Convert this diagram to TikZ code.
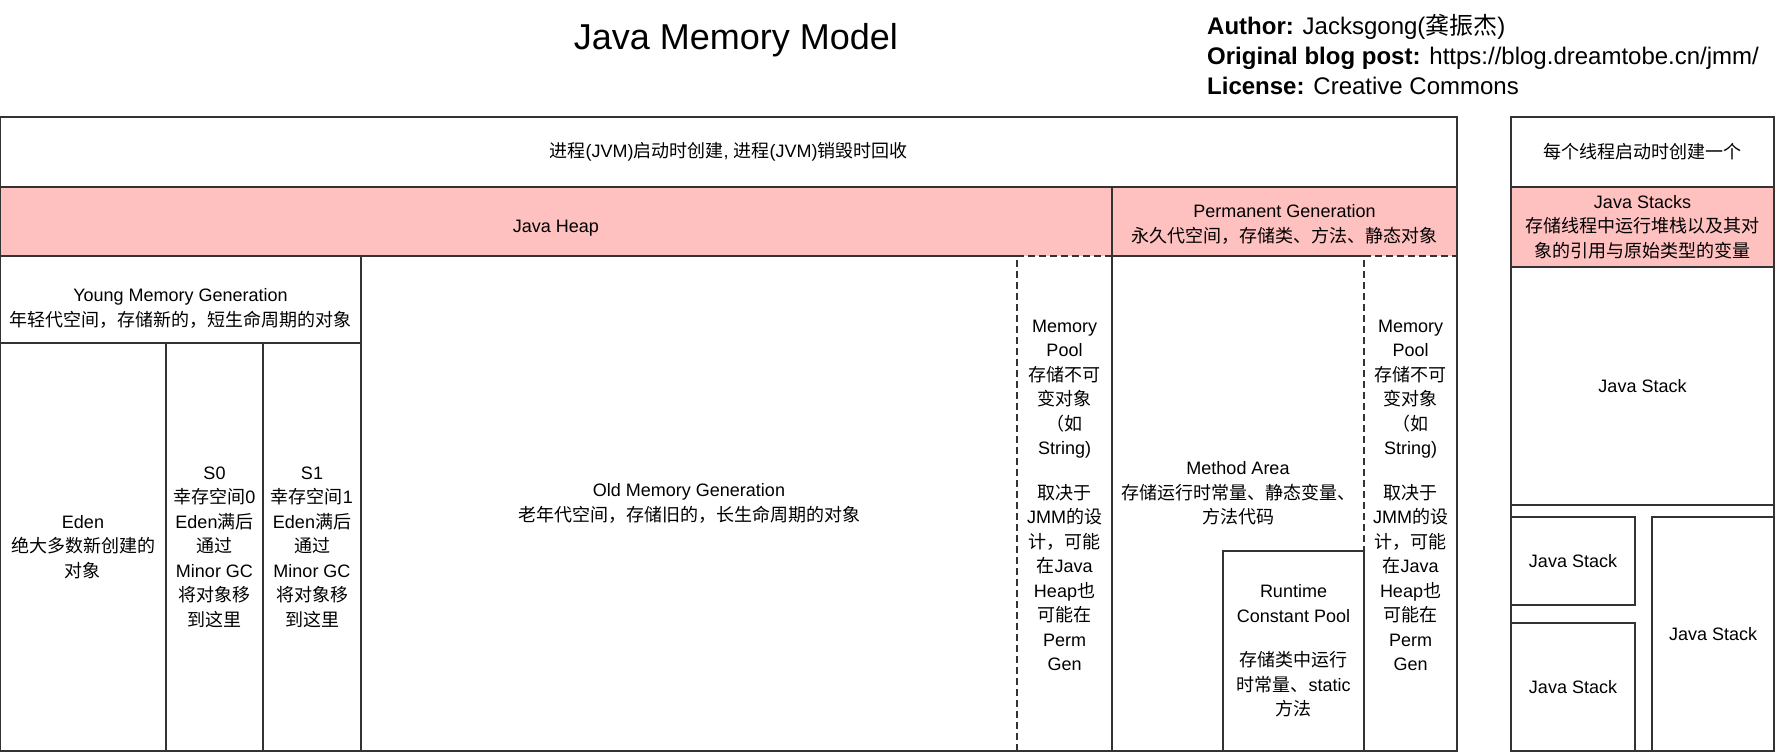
\documentclass[tikz,border=0pt]{standalone}
\usepackage{fontspec}
\setmainfont{Liberation Sans}
\newfontfamily\cjk{Noto Sans CJK SC}
\usepackage{tikz}
\usetikzlibrary{positioning}
\definecolor{LineGray}{HTML}{333333}
\definecolor{HeapPink}{HTML}{FFC0C0}
\newcommand{\zh}[1]{{\cjk #1}}
\newcommand{\cellfont}{\fontsize{18}{24.5}\selectfont}
\newcommand{\pooltext}{Memory\\Pool\\\zh{存储不可}\\\zh{变对象}\\\zh{（如}\\String)\\[20pt]\zh{取决于}\\JMM\zh{的设}\\\zh{计，可能}\\\zh{在}Java\\Heap\zh{也}\\\zh{可能在}\\Perm\\Gen}

\begin{document}
\begin{tikzpicture}[x=1pt,y=-1pt,
  dims/.style 2 args={minimum width=#1pt,minimum height=#2pt},
  cell/.style={rectangle,draw=LineGray,line width=1.5pt,inner sep=0pt,outer sep=0pt,
               anchor=north west,align=center,font=\cellfont},
  band/.style={cell,draw=none,fill=HeapPink},
  blank/.style={cell,draw=none},
  txt/.style={inner sep=0pt,align=center,font=\cellfont},
  edge/.style={draw=LineGray,line width=1.5pt},
  pooledge/.style={edge,dash pattern=on 7pt off 4pt}
]
\useasboundingbox (0,0) rectangle (1775,753);

% heading
\node[font=\fontsize{36}{40}\selectfont] (title) at (736,40) {Java Memory Model};
\node[anchor=west,align=left,inner sep=0pt,font=\fontsize{24}{30}\selectfont] (author) at (1207,55)
  {\textbf{Author:} Jacksgong(\zh{龚振杰})\\
   \textbf{Original blog post:} https://blog.dreamtobe.cn/jmm/\\
   \textbf{License:} Creative Commons};

% pink bands first
\node[band,dims={1112}{69}] (heap) at (0,187) {};
\node[txt] (heaptxt) at ([yshift=-7pt]heap.center) {Java Heap};
\node[band,dims={345}{69}] (perm) at (1112,187) {};
\node[txt] (permtxt) at ([yshift=-3pt]perm.center) {Permanent Generation\\\zh{永久代空间，存储类、方法、静态对象}};
\node[band,draw=LineGray,dims={263}{80}] (stacks) at (1511,187)
  {Java Stacks\\\zh{存储线程中运行堆栈以及其对}\\\zh{象的引用与原始类型的变量}};
\draw[edge] (perm.north west) -- (perm.south west);

% JVM process area
\node[cell,dims={1457}{70}] (proc) at (0,117)
  {\zh{进程}(JVM)\zh{启动时创建}, \zh{进程}(JVM)\zh{销毁时回收}};

\node[cell,dims={361}{87}] (young) at (0,256) {};
\node[txt] (youngtxt) at ([yshift=-9pt]young.center)
  {Young Memory Generation\\\zh{年轻代空间，存储新的，短生命周期的对象}};
\node[cell,dims={166}{408}] (eden) at (0,343) {Eden\\\zh{绝大多数新创建的}\\\zh{对象}};
\node[cell,dims={97}{408},right=0pt of eden] (s0)
  {S0\\\zh{幸存空间}0\\Eden\zh{满后}\\\zh{通过}\\Minor GC\\\zh{将对象移}\\\zh{到这里}};
\node[cell,dims={98}{408},right=0pt of s0] (s1)
  {S1\\\zh{幸存空间}1\\Eden\zh{满后}\\\zh{通过}\\Minor GC\\\zh{将对象移}\\\zh{到这里}};

\node[blank,dims={656}{495}] (old) at (361,256)
  {Old Memory Generation\\\zh{老年代空间，存储旧的，长生命周期的对象}};
\draw[edge] (old.north west) -- (old.north east);

\node[blank,dims={95}{495}] (heappool) at (1017,256) {};
\draw[pooledge] (heappool.south west) -- (heappool.north west) -- (heappool.north east);
\node[txt] (heappooltxt) at ([yshift=8pt]heappool.center) {\pooltext};

\node[blank,dims={252}{495}] (method) at (1112,256) {};
\draw[edge] (method.south west) -- (method.north west) -- (method.north east);
\node[txt] (methodtxt) at ([yshift=10pt]method.center)
  {Method Area\\\zh{存储运行时常量、静态变量、}\\\zh{方法代码}};
\node[cell,dims={141}{200}] (rcp) at (1223,551)
  {Runtime\\Constant Pool\\[20pt]\zh{存储类中运行}\\\zh{时常量、}static\\\zh{方法}};

\node[blank,dims={93}{495}] (permpool) at (1364,256) {};
\draw[pooledge] (permpool.south west) -- (permpool.north west) -- (permpool.north east);
\node[txt] (permpooltxt) at ([yshift=8pt]permpool.center) {\pooltext};

\node[cell,dims={1457}{634}] (jvm) at (0,117) {};

% per-thread area
\node[cell,dims={263}{70},above=0pt of stacks] (thread) {\zh{每个线程启动时创建一个}};
\node[cell,dims={263}{238},below=0pt of stacks] (stk1) {Java Stack};
\node[cell,dims={124}{88}] (stk2) at (1511,517) {Java Stack};
\node[cell,dims={124}{128}] (stk3) at (1511,623) {Java Stack};
\node[cell,dims={122}{234}] (stk4) at (1652,517) {Java Stack};
\node[cell,dims={263}{634}] (threads) at (1511,117) {};
\end{tikzpicture}
\end{document}
